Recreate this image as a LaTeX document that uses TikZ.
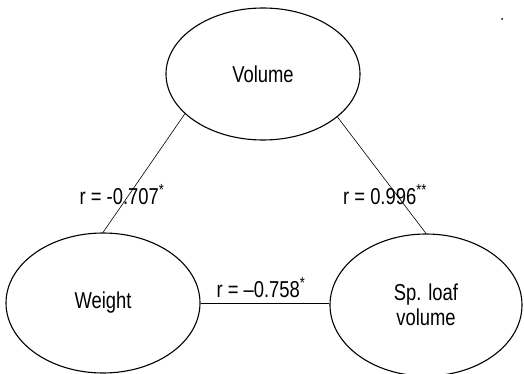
\documentclass[tikz,border=0pt]{standalone}
\usepackage{fontspec}
\setmainfont{Liberation Sans}[FakeStretch=0.8]
\usetikzlibrary{shapes.geometric,positioning}

\begin{document}
\begin{tikzpicture}[
  x=1pt, y=-1pt,
  font=\fontsize{23}{25}\selectfont,
  var/.style={draw, ellipse, line width=1.1pt, align=center, inner sep=0pt},
  link/.style={line width=0.6pt},
  rlbl/.style={inner sep=0pt},
]
\useasboundingbox (0,0) rectangle (524,374);
% ---- the three variables ----
\node[var, minimum width=194pt, minimum height=132pt] (vol) at (263,74) {Volume};
\node[var, minimum width=194pt, minimum height=140pt] (wt) at (103,303) {Weight};
\node[var, minimum width=192pt, minimum height=142pt] (sp) at (426,305) {Sp. loaf\\volume};
% ---- correlations ----
\draw[link] (vol.207) -- (wt.north);
\draw[link] (vol.330) -- (sp.north);
\draw[link, line width=0.9pt] (wt.east) -- (wt.east -| sp.west);
\node[rlbl] (r1) at (122,195) {r = -0.707\textsuperscript{*}};
\node[rlbl] (r2) at (385,195) {r = 0.996\textsuperscript{**}};
\node[rlbl] (r3) at (261,288) {r = --0.758\textsuperscript{*}};
% ---- stray dot ----
\fill (502,19) circle (1pt);
\end{tikzpicture}
\end{document}
